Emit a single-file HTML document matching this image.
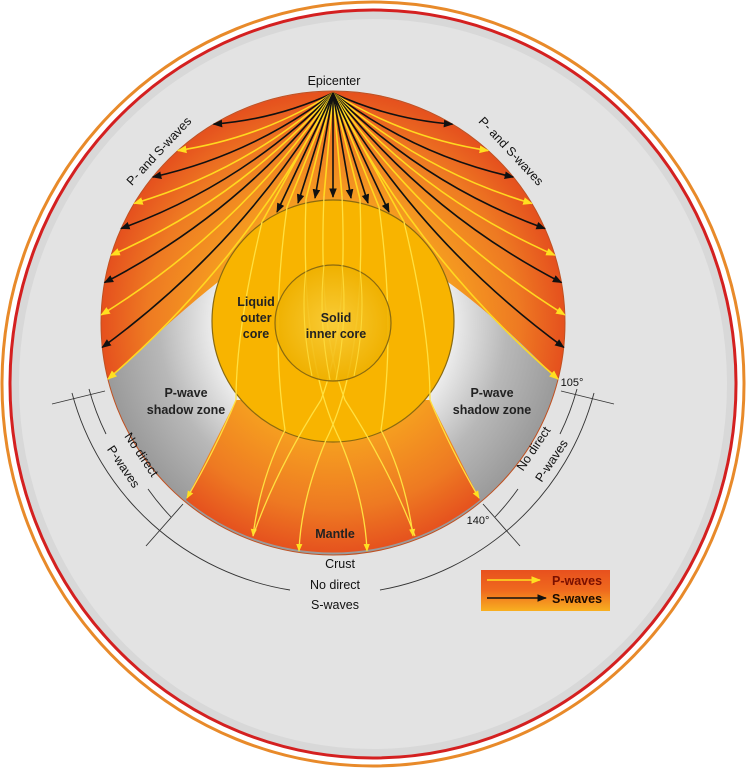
<!DOCTYPE html>
<html><head><meta charset="utf-8"><style>
html,body{margin:0;padding:0;background:#fff;}
svg{display:block;}
text{font-family:"Liberation Sans",sans-serif;}
</style></head><body>
<svg width="746" height="768" viewBox="0 0 746 768" xmlns="http://www.w3.org/2000/svg">
<defs>
<radialGradient id="mant" cx="333" cy="323" r="232" gradientUnits="userSpaceOnUse">
<stop offset="0.5" stop-color="#f6a020"/><stop offset="0.8" stop-color="#ee7a22"/><stop offset="1" stop-color="#e5501e"/>
</radialGradient>
<radialGradient id="shad" cx="333" cy="323" r="232" gradientUnits="userSpaceOnUse">
<stop offset="0.5" stop-color="#f0f0f0"/><stop offset="0.75" stop-color="#b8b8b8"/><stop offset="1" stop-color="#9a9a9a"/>
</radialGradient>
<radialGradient id="inner" cx="333" cy="323" r="58" gradientUnits="userSpaceOnUse">
<stop offset="0" stop-color="#f9d040"/><stop offset="1" stop-color="#eeb000"/>
</radialGradient>
<linearGradient id="leg" x1="0" y1="0" x2="0" y2="1">
<stop offset="0" stop-color="#e8501e"/><stop offset="0.5" stop-color="#ef6a1e"/><stop offset="1" stop-color="#f8b020"/>
</linearGradient>
<marker id="ab" viewBox="0 0 10 10" refX="9" refY="5" markerWidth="6" markerHeight="6" orient="auto"><path d="M0,1 L10,5 L0,9 Z" fill="#111"/></marker>
<marker id="ay" viewBox="0 0 10 10" refX="9" refY="5" markerWidth="6" markerHeight="6" orient="auto"><path d="M0,1 L10,5 L0,9 Z" fill="#ffe020"/></marker>
</defs>
<ellipse cx="373" cy="384" rx="371" ry="382" fill="#fff" stroke="#e88a2a" stroke-width="3"/>
<ellipse cx="373" cy="384" rx="363" ry="374" fill="#d8d8d8" stroke="#d42020" stroke-width="3"/>
<ellipse cx="373" cy="384" rx="354" ry="365" fill="#e3e3e3"/>

<!-- earth -->
<circle cx="333" cy="323" r="232" fill="url(#shad)"/>
<path d="M558,380 A232,232 0 1 0 108,380 Q170,320 218,282 L448,282 Q500,320 558,380 Z" fill="url(#mant)"/>
<path d="M186,500 A232,232 0 0 0 480,500 L430,400 L236,400 Z" fill="url(#mant)"/>
<circle cx="333" cy="323" r="232" fill="none" stroke="#c05020" stroke-width="1"/>

<g fill="none" stroke-width="1.6">
<path d="M333,93 Q389.8,119.3 452.5,124.2" stroke="#111" marker-end="url(#ab)"/>
<path d="M333,93 Q404.4,137.9 488.2,150.6" stroke="#ffd820" marker-end="url(#ay)"/>
<path d="M333,93 Q413.7,154.8 513.3,177.1" stroke="#111" marker-end="url(#ab)"/>
<path d="M333,93 Q419.9,170.5 531.9,203.5" stroke="#ffd820" marker-end="url(#ay)"/>
<path d="M333,93 Q423.5,184.5 545,228.6" stroke="#111" marker-end="url(#ab)"/>
<path d="M333,93 Q425.5,198.8 554.8,255.2" stroke="#ffd820" marker-end="url(#ay)"/>
<path d="M333,93 Q426.3,212.7 561.5,282.6" stroke="#111" marker-end="url(#ab)"/>
<path d="M333,93 Q425,228.5 564.8,314.9" stroke="#ffd820" marker-end="url(#ay)"/>
<path d="M333,93 Q422.1,243.6 563.8,347.4" stroke="#111" marker-end="url(#ab)"/>
<path d="M333,93 Q417.4,257.8 558.1,379.1" stroke="#ffd820" marker-end="url(#ay)"/>
<path d="M333,93 Q276.2,119.3 213.5,124.2" stroke="#111" marker-end="url(#ab)"/>
<path d="M333,93 Q261.6,137.9 177.8,150.6" stroke="#ffd820" marker-end="url(#ay)"/>
<path d="M333,93 Q252.3,154.8 152.7,177.1" stroke="#111" marker-end="url(#ab)"/>
<path d="M333,93 Q246.1,170.5 134.1,203.5" stroke="#ffd820" marker-end="url(#ay)"/>
<path d="M333,93 Q242.5,184.5 121,228.6" stroke="#111" marker-end="url(#ab)"/>
<path d="M333,93 Q240.5,198.8 111.2,255.2" stroke="#ffd820" marker-end="url(#ay)"/>
<path d="M333,93 Q239.7,212.7 104.5,282.6" stroke="#111" marker-end="url(#ab)"/>
<path d="M333,93 Q241,228.5 101.2,314.9" stroke="#ffd820" marker-end="url(#ay)"/>
<path d="M333,93 Q243.9,243.6 102.2,347.4" stroke="#111" marker-end="url(#ab)"/>
<path d="M333,93 Q248.6,257.8 107.9,379.1" stroke="#ffd820" marker-end="url(#ay)"/>
<path d="M333,93 L287,207 M333,93 L306,199 M333,93 L324,196 M333,93 L342,196 M333,93 L360,199 M333,93 L379,207 M333,93 L262,222 M333,93 L404,222" stroke="#ffd820"/>
<path d="M333,93 L277,212" stroke="#111" marker-end="url(#ab)"/>
<path d="M333,93 L298,203" stroke="#111" marker-end="url(#ab)"/>
<path d="M333,93 L315,198" stroke="#111" marker-end="url(#ab)"/>
<path d="M333,93 L333,197" stroke="#111" marker-end="url(#ab)"/>
<path d="M333,93 L351,198" stroke="#111" marker-end="url(#ab)"/>
<path d="M333,93 L368,203" stroke="#111" marker-end="url(#ab)"/>
<path d="M333,93 L389,212" stroke="#111" marker-end="url(#ab)"/>
</g>

<!-- core -->
<circle cx="333" cy="321" r="121" fill="#f8b400" stroke="#8a6a10" stroke-width="1.2"/>
<g fill="none" stroke="#ffe040" stroke-width="1.3">
<path d="M262,222 Q236,330 236,400 Q215,450 187,498" marker-end="url(#ay)"/>
<path d="M404,222 Q430,330 430,400 Q451,450 479,498" marker-end="url(#ay)"/>
<path d="M287,207 Q270,330 285,430 Q260,480 253,536" marker-end="url(#ay)"/>
<path d="M379,207 Q396,330 381,430 Q406,480 413,536" marker-end="url(#ay)"/>
<path d="M306,199 Q300,360 340,440 Q365,500 367,551" marker-end="url(#ay)"/>
<path d="M360,199 Q366,360 326,440 Q301,500 299,551" marker-end="url(#ay)"/>
<path d="M324,196 Q318,330 345,400 Q390,470 415,536"/>
<path d="M342,196 Q348,330 321,400 Q276,470 253,536"/>
</g>
<circle cx="333" cy="323" r="58" fill="url(#inner)" stroke="#8a6a10" stroke-width="1.2" fill-opacity="0.85"/>
<g fill="none" stroke="#ffe040" stroke-width="1.1" opacity="0.8">
<path d="M306,270 Q300,320 312,376"/><path d="M360,270 Q366,320 354,376"/>
<path d="M324,265 Q318,320 330,380"/><path d="M342,265 Q348,320 336,380"/>
</g>

<!-- labels -->
<g font-weight="bold" fill="#222" font-size="12.5" text-anchor="middle">
<text x="256" y="306">Liquid</text><text x="256" y="322">outer</text><text x="256" y="338">core</text>
<text x="336" y="322">Solid</text><text x="336" y="338">inner core</text>
<text x="186" y="397">P-wave</text><text x="186" y="414">shadow zone</text>
<text x="492" y="397">P-wave</text><text x="492" y="414">shadow zone</text>
<text x="335" y="538">Mantle</text>
</g>
<g fill="#111" font-size="12.5" text-anchor="middle">
<text x="334" y="85">Epicenter</text>
<text x="340" y="568">Crust</text>
<text x="335" y="589">No direct</text>
<text x="335" y="609">S-waves</text>
<text x="572" y="386" font-size="11">105°</text>
<text x="478" y="524" font-size="11">140°</text>
<text transform="translate(162,154) rotate(-47)">P- and S-waves</text>
<text transform="translate(508,154) rotate(47)">P- and S-waves</text>
<text transform="translate(138,457) rotate(56)">No direct</text>
<text transform="translate(120,469) rotate(56)">P-waves</text>
<text transform="translate(537,451) rotate(-56)">No direct</text>
<text transform="translate(555,463) rotate(-56)">P-waves</text>
</g>

<!-- annotation arcs & ticks -->
<g fill="none" stroke="#333" stroke-width="0.9">
<path d="M52,404 L105,391"/>
<path d="M146,546 L183,504"/>
<path d="M614,404 L561,391"/>
<path d="M520,546 L483,504"/>
<path d="M89,389 A253,253 0 0 0 106,434"/>
<path d="M148,489 A253,253 0 0 0 171,517"/>
<path d="M577,389 A253,253 0 0 1 560,434"/>
<path d="M518,489 A253,253 0 0 1 495,517"/>
<path d="M72,393 A270,270 0 0 0 290,590"/>
<path d="M380,590 A270,270 0 0 0 594,393"/>
</g>

<!-- legend -->
<rect x="481" y="570" width="129" height="41" fill="url(#leg)"/>
<line x1="487" y1="580" x2="540" y2="580" stroke="#ffe020" stroke-width="1.6" marker-end="url(#ay)"/>
<line x1="487" y1="598" x2="546" y2="598" stroke="#111" stroke-width="1.6" marker-end="url(#ab)"/>
<text x="552" y="585" font-size="12.5" font-weight="bold" fill="#7a1000">P-waves</text>
<text x="552" y="603" font-size="12.5" font-weight="bold" fill="#1a0a00">S-waves</text>
</svg>
</body></html>
